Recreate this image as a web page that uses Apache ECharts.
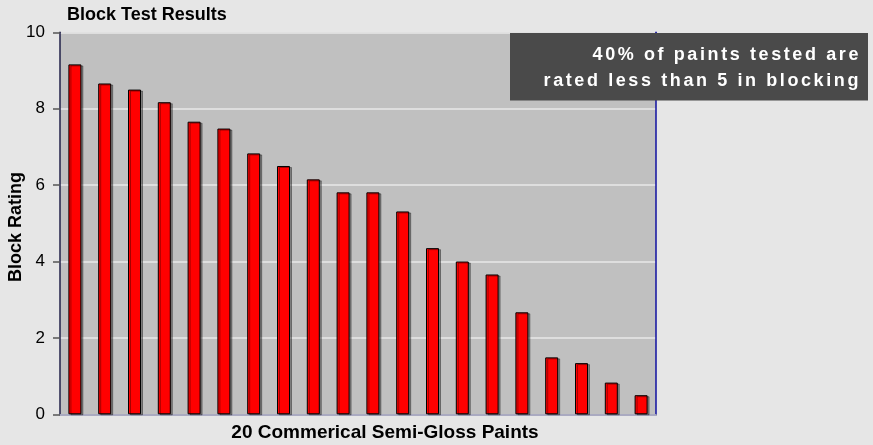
<!DOCTYPE html>
<html>
<head>
<meta charset="utf-8">
<script src="https://cdn.jsdelivr.net/npm/echarts@6/dist/echarts.min.js"></script>
<style>
  html, body { margin: 0; padding: 0; background: #e6e6e6; }
  #chart { width: 873px; height: 445px; }
</style>
</head>
<body>
<div id="chart"></div>
<script>
// ---- data ----
const categories = ['P1','P2','P3','P4','P5','P6','P7','P8','P9','P10',
                    'P11','P12','P13','P14','P15','P16','P17','P18','P19','P20'];
const blockRatings = [9.16, 8.66, 8.50, 8.17, 7.66, 7.48, 6.83, 6.50, 6.15, 5.81,
                      5.81, 5.31, 4.35, 4.00, 3.66, 2.67, 1.49, 1.34, 0.83, 0.50];
const yTicks = [0, 2, 4, 6, 8, 10];
const titleText = 'Block Test Results';
const xAxisName = '20 Commerical Semi-Gloss Paints';
const yAxisName = 'Block Rating';
const noteText = '40% of paints tested are\nrated less than 5 in blocking';

// letter spacing for the annotation text (canvas letterSpacing)
(function () {
  const P = CanvasRenderingContext2D.prototype;
  if (!('letterSpacing' in P)) return;
  ['fillText', 'strokeText', 'measureText'].forEach(function (name) {
    const orig = P[name];
    P[name] = function () {
      const f = this.font || '';
      this.letterSpacing = f.indexOf('Spaced') >= 0 ? '2.6px' : '0px';
      return orig.apply(this, arguments);
    };
  });
})();

const FONT = 'Arial, "Liberation Sans", sans-serif';
const chart = echarts.init(document.getElementById('chart'), null, { renderer: 'canvas' });

chart.setOption({
  backgroundColor: '#e6e6e6',
  animation: false,
  title: {
    text: titleText,
    left: 67, top: 6, padding: 0,
    textStyle: { fontFamily: FONT, fontSize: 18, fontWeight: 'bold', color: '#000' }
  },
  grid: {
    left: 60, right: 217, top: 32.3, bottom: 30.7,
    show: true, backgroundColor: '#c0c0c0', borderWidth: 0
  },
  xAxis: [{
    type: 'category',
    data: categories,
    position: 'bottom',
    axisLine: { show: true, lineStyle: { color: '#202048', width: 1.5 } },
    axisTick: { show: false },
    axisLabel: { show: false },
    splitLine: { show: false }
  }, {
    type: 'category',
    data: categories,
    position: 'top',
    axisLine: { show: true, lineStyle: { color: '#c8c8dc', width: 1.5 } },
    axisTick: { show: false },
    axisLabel: { show: false },
    splitLine: { show: false }
  }],
  yAxis: [{
    type: 'value',
    min: yTicks[0], max: yTicks[yTicks.length - 1], interval: 2,
    position: 'left',
    axisLine: { show: true, lineStyle: { color: '#202048', width: 1.5 } },
    axisTick: { show: true, length: 7, lineStyle: { color: '#555', width: 1.5 } },
    axisLabel: { show: true, margin: 15, fontFamily: FONT, fontSize: 17, color: '#000' },
    splitLine: { show: true, lineStyle: { color: '#e8e8e8', width: 1.5 } }
  }, {
    type: 'value',
    min: yTicks[0], max: yTicks[yTicks.length - 1], interval: 2,
    position: 'right',
    axisLine: { show: true, lineStyle: { color: '#1010a0', width: 1.5 } },
    axisTick: { show: false },
    axisLabel: { show: false },
    splitLine: { show: false }
  }],
  series: [{
    type: 'bar',
    xAxisIndex: 0, yAxisIndex: 0,
    data: blockRatings,
    barWidth: 13,
    itemStyle: {
      color: '#ff0000',
      borderColor: '#000',
      borderWidth: 1,
      shadowColor: 'rgba(0,0,0,0.35)',
      shadowOffsetX: 2,
      shadowOffsetY: 1,
      shadowBlur: 0
    }
  }],
  graphic: [
    {
      type: 'text',
      x: 385, y: 433,
      style: {
        text: xAxisName, fontFamily: FONT, fontSize: 19, fontWeight: 'bold',
        fill: '#000', align: 'center', verticalAlign: 'middle'
      }
    },
    {
      type: 'text',
      x: 16.5, y: 227, rotation: Math.PI / 2,
      style: {
        text: yAxisName, fontFamily: FONT, fontSize: 18, fontWeight: 'bold',
        fill: '#000', align: 'center', verticalAlign: 'middle'
      }
    },
    {
      type: 'rect',
      shape: { x: 510, y: 33, width: 358, height: 67.5 },
      style: { fill: '#4a4a4a' },
      z: 100
    },
    {
      type: 'text',
      x: 861, y: 68,
      z: 101,
      style: {
        text: noteText, fontFamily: '"Liberation Sans", Spaced, Arial', fontSize: 18,
        fontWeight: 'bold', fill: '#ffffff', align: 'right', verticalAlign: 'middle',
        lineHeight: 26
      }
    }
  ]
});
</script>
</body>
</html>
